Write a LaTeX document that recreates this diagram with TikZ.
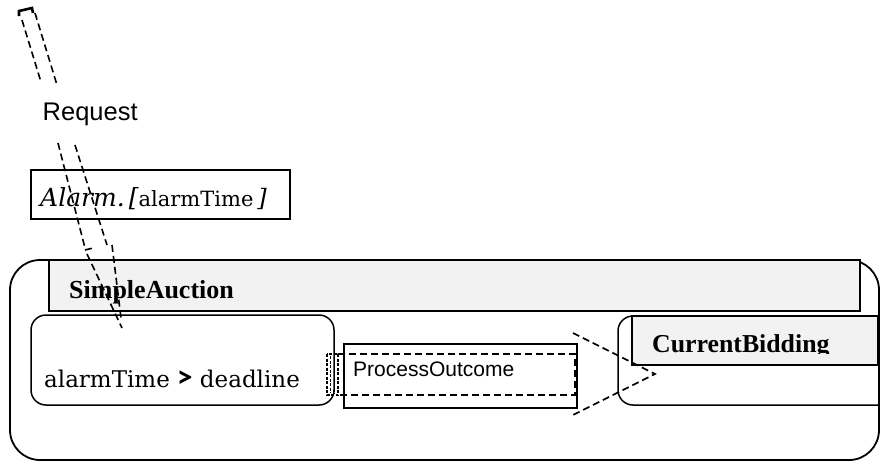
\documentclass[tikz,border=0pt]{standalone}
\usepackage{fontspec}
\setmainfont{DejaVu Serif}
\newfontfamily\headfont{Liberation Serif}
\newfontfamily\labelfont{Liberation Sans}
\newfontfamily\opfont{Carlito}
\usetikzlibrary{positioning}

\tikzset{
  box/.style={draw, line width=1.8pt},
  statebox/.style={box, line width=1.5pt, rounded corners=15pt},
  headbox/.style={box, fill=black!5},
  flow/.style={line width=1.6pt, dash pattern=on 7pt off 4pt},
  hatch/.style={line width=1.6pt, dash pattern=on 3pt off 1.5pt},
  txt/.style={inner sep=0pt, anchor=base west},
}

\begin{document}
\begin{tikzpicture}[x=1pt, y=-1pt]
			\clip (0,0) rectangle (880,461);
			% outer state
			\draw[box, rounded corners=30pt] (10,260) rectangle (879,460);
			\draw[headbox] (49,260) rectangle (860,311);
			\node[txt, font=\headfont\bfseries\fontsize{26}{30}\selectfont] (auction) at (69,298) {SimpleAuction};
			% left state
			\draw[statebox] (31,315) rectangle (334,405);
			\node[txt, font=\fontsize{23}{28}\selectfont] (guard) at (44,387) {alarmTime {\opfont\bfseries\fontsize{31}{30}\selectfont >} deadline};
			% right state
			\draw[statebox] (618,316) rectangle (900,405);
			\draw[headbox] (632,316) rectangle (878,365);
			\begin{scope}
				\clip (632,316) rectangle (878,353);
				\node[txt, font=\headfont\bfseries\fontsize{25.8}{30}\selectfont] (bidding) at (652,352) {CurrentBidding};
			\end{scope}
			% action box
			\draw[box] (344,344) rectangle (577,408);
			\node[txt, font=\labelfont\fontsize{21}{25}\selectfont] (outcome) at (353,376) {ProcessOutcome};
			\draw[flow] (338,354) -- (575,354) -- (575,395) -- (338,395);
			\draw[hatch] (327,354) rectangle (338,395);
			\draw[hatch] (330.5,356) -- (330.5,393);
			\draw[hatch] (334.5,357) -- (334.5,394);
			% chevron
			\draw[flow] (573,333) -- (655,374) -- (573,415);
			% trigger
			\draw[box, line width=1.5pt] (31,170) rectangle (290,219);
			\node[txt, font=\fontsize{21}{24}\selectfont] (alarm) at (40,206) {{\itshape\fontsize{25}{30}\selectfont Alarm.\,[}alarmTime\kern4pt{\itshape\fontsize{24}{30}\selectfont ]}};
			\node[txt, font=\labelfont\fontsize{25.5}{30}\selectfont] (request) at (42.5,120) {Request};
			% dashed arrow, upper part
			\draw[line width=2.6pt] (19,16) -- (19,11) -- (32,8) -- (33,13);
			\draw[flow] (22,20) -- (41,82);
			\draw[flow] (35,13) -- (57,85);
			% dashed arrow, lower part
			\draw[flow] (58,143) -- (85,248);
			\draw[flow] (75,145) -- (107,245);
			\draw[flow] (85,250) -- (93,248);
			\draw[flow] (87,254) -- (122,328);
			\draw[flow] (112,245) -- (121,318);
		\end{tikzpicture}
\end{document}
